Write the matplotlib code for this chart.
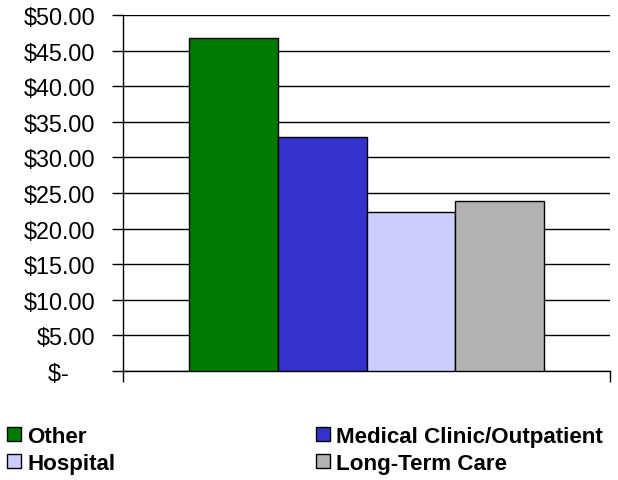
import matplotlib
matplotlib.use("Agg")
import matplotlib.pyplot as plt
from matplotlib.patches import Patch
from matplotlib.ticker import FuncFormatter

categories = ["Other", "Medical Clinic/Outpatient", "Hospital", "Long-Term Care"]
values = [46.75, 32.9, 22.4, 23.9]
colors = ["#007A00", "#3333CC", "#CCCCFF", "#B2B2B2"]
yticks = [0, 5, 10, 15, 20, 25, 30, 35, 40, 45, 50]

plt.rcParams['font.family'] = ['Liberation Sans', 'DejaVu Sans']

fig = plt.figure(figsize=(6.18, 4.81), dpi=100)
ax = fig.add_axes([123/618, 1-372/481, (610-123)/618, (372-16)/481])

x = list(range(len(categories)))
ax.bar(x, values, width=1.0, color=colors, edgecolor="black", linewidth=1.0, zorder=3)

xl, xr = -1.247, 4.242
ax.set_ylim(0, 50)
ax.set_xlim(xl, xr)
ax.set_yticks(yticks)

def fmt(v, pos):
    return "$-    " if v == 0 else f"${v:,.2f}"
ax.yaxis.set_major_formatter(FuncFormatter(fmt))
ax.grid(axis="y", color="black", linewidth=1.0, zorder=0)
ax.set_xticks([xl, xr])
ax.set_xticklabels(["", ""])
ax.tick_params(axis="x", direction="out", length=8, width=1, color="black")
ax.tick_params(axis="y", direction="out", length=8, width=1, color="black", labelsize=16.8, pad=12)
for s in ["top", "right"]:
    ax.spines[s].set_visible(False)
ax.spines["left"].set_linewidth(1)
ax.spines["bottom"].set_linewidth(1)

handles = [Patch(facecolor=colors[i], edgecolor="black", linewidth=1, label=categories[i]) for i in [0, 2, 1, 3]]
fig.legend(handles=handles, loc="upper left", bbox_to_anchor=(7/618, 1-427/481), ncol=2, frameon=False,
           prop={"weight": "bold", "size": 16.1}, handlelength=0.63, handleheight=0.63, handletextpad=0.28,
           columnspacing=8.95, labelspacing=0.26, borderpad=0, borderaxespad=0)

fig.savefig("out.png", dpi=100)
